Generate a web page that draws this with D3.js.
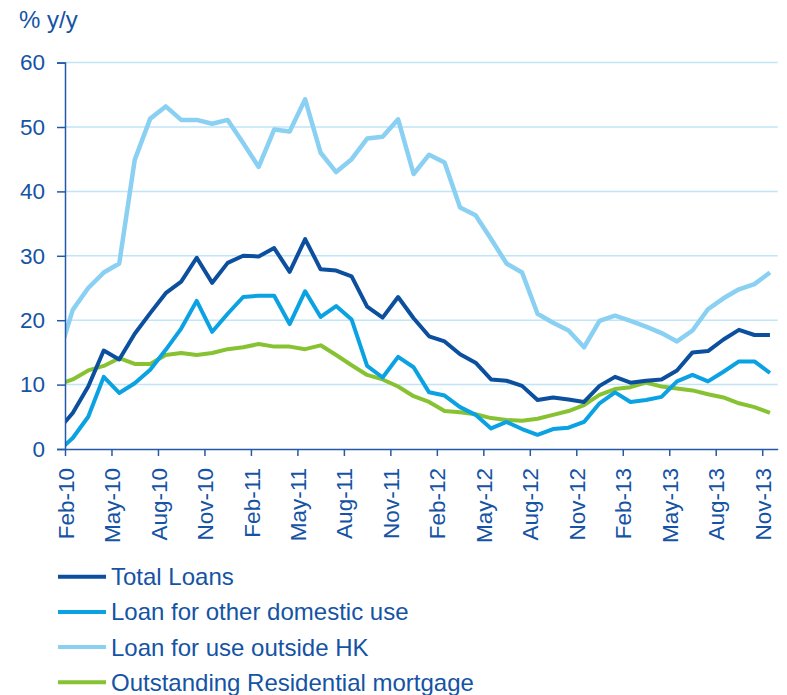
<!DOCTYPE html>
<html>
<head>
<meta charset="utf-8">
<script src="https://cdn.jsdelivr.net/npm/d3@7/dist/d3.min.js"></script>
<style>
  html, body { margin: 0; padding: 0; background: #fff; }
  svg { display: block; font-family: "Liberation Sans", Arial, sans-serif; }
</style>
</head>
<body>
<svg id="chart" width="787" height="695"></svg>
<script>
// Months Jan-10 .. Nov-13 (Jan-10 lies just before the axis start and is clipped)
const months = ["Jan-10","Feb-10","Mar-10","Apr-10","May-10","Jun-10","Jul-10","Aug-10","Sep-10","Oct-10","Nov-10","Dec-10",
  "Jan-11","Feb-11","Mar-11","Apr-11","May-11","Jun-11","Jul-11","Aug-11","Sep-11","Oct-11","Nov-11","Dec-11",
  "Jan-12","Feb-12","Mar-12","Apr-12","May-12","Jun-12","Jul-12","Aug-12","Sep-12","Oct-12","Nov-12","Dec-12",
  "Jan-13","Feb-13","Mar-13","Apr-13","May-13","Jun-13","Jul-13","Aug-13","Sep-13","Oct-13","Nov-13"];

const tickLabels = ["Feb-10","May-10","Aug-10","Nov-10","Feb-11","May-11","Aug-11","Nov-11",
  "Feb-12","May-12","Aug-12","Nov-12","Feb-13","May-13","Aug-13","Nov-13"];

const yTicks = [0, 10, 20, 30, 40, 50, 60];

const totalLoans = [2.8, 5.6, 9.7, 15.3, 13.9, 17.9, 21.1, 24.2, 26.0, 29.7, 25.8, 28.9,
  30.0, 29.9, 31.2, 27.5, 32.6, 27.9, 27.7, 26.8, 22.1, 20.4, 23.6, 20.3,
  17.5, 16.7, 14.7, 13.4, 10.8, 10.6, 9.8, 7.6, 8.0, 7.7, 7.3, 9.8,
  11.2, 10.3, 10.6, 10.8, 12.2, 15.0, 15.2, 17.0, 18.5, 17.7, 17.7];

const otherDomestic = [-0.5, 1.7, 5.0, 11.2, 8.7, 10.2, 12.3, 15.4, 18.7, 23.0, 18.2, 21.0,
  23.6, 23.8, 23.8, 19.4, 24.5, 20.5, 22.2, 20.1, 12.9, 11.1, 14.3, 12.7,
  8.8, 8.3, 6.5, 5.3, 3.2, 4.2, 3.1, 2.2, 3.1, 3.3, 4.2, 7.1,
  8.8, 7.3, 7.6, 8.1, 10.5, 11.5, 10.5, 12.0, 13.6, 13.6, 11.8];

const outsideHK = [13.8, 21.6, 25.0, 27.4, 28.8, 44.9, 51.3, 53.2, 51.1, 51.1, 50.5, 51.1,
  47.5, 43.8, 49.6, 49.3, 54.3, 46.0, 43.0, 45.0, 48.2, 48.5, 51.2, 42.7,
  45.7, 44.5, 37.5, 36.3, 32.6, 28.8, 27.4, 21.0, 19.6, 18.4, 15.8, 19.9,
  20.7, 19.9, 19.0, 18.0, 16.7, 18.4, 21.7, 23.4, 24.8, 25.6, 27.4];

const mortgage = [10.0, 10.8, 12.2, 12.9, 14.1, 13.2, 13.2, 14.6, 14.9, 14.6, 14.9, 15.5,
  15.8, 16.3, 15.9, 15.9, 15.5, 16.1, 14.6, 13.0, 11.5, 10.8, 9.7, 8.2,
  7.3, 5.9, 5.7, 5.4, 4.8, 4.5, 4.4, 4.7, 5.3, 5.9, 6.8, 8.4,
  9.3, 9.6, 10.3, 9.7, 9.4, 9.1, 8.5, 8.0, 7.1, 6.5, 5.6];

const seriesNames = ["Total Loans", "Loan for other domestic use", "Loan for use outside HK", "Outstanding Residential mortgage"];
const seriesColors = ["#0c4f9f", "#0aa2e2", "#8ad0f2", "#86c232"];
const seriesWidths = [4, 4, 4.5, 4];

const series = [
  { name: seriesNames[0], values: totalLoans, color: seriesColors[0], w: seriesWidths[0] },
  { name: seriesNames[1], values: otherDomestic, color: seriesColors[1], w: seriesWidths[1] },
  { name: seriesNames[2], values: outsideHK, color: seriesColors[2], w: seriesWidths[2] },
  { name: seriesNames[3], values: mortgage, color: seriesColors[3], w: seriesWidths[3] }
];

const textColor = "#1553a4";
const axisColor = "#2459a8";
const gridColor = "#bfe5f7";

const svg = d3.select("#chart");
const plotLeft = 65, plotRight = 777.7, plotTop = 62.6, plotBottom = 449;

// month index scale: 0 = start of Feb-10, 46 = start of Dec-13; points at mid-month
const x = d3.scaleLinear().domain([0, 46]).range([plotLeft, plotRight]);
const y = d3.scaleLinear().domain([0, 60]).range([plotBottom, plotTop]);
const xPos = i => x(i - 0.5); // i = index in months array (0 = Jan-10)

// gridlines
svg.append("g")
  .selectAll("line")
  .data(yTicks.filter(t => t > 0))
  .join("line")
  .attr("x1", plotLeft).attr("x2", plotRight)
  .attr("y1", d => y(d)).attr("y2", d => y(d))
  .attr("stroke", gridColor).attr("stroke-width", 1.5);

// clip
svg.append("defs").append("clipPath").attr("id", "plotclip")
  .append("rect").attr("x", plotLeft).attr("y", 0)
  .attr("width", plotRight - plotLeft + 10).attr("height", plotBottom + 10);

const line = d3.line().x((d, i) => xPos(i)).y(d => y(d));
const linesG = svg.append("g").attr("clip-path", "url(#plotclip)");
const drawOrder = [2, 3, 1, 0];
drawOrder.forEach(k => {
  const s = series[k];
  linesG.append("path")
    .datum(s.values)
    .attr("d", line)
    .attr("fill", "none")
    .attr("stroke", s.color)
    .attr("stroke-width", s.w)
    .attr("stroke-linejoin", "round");
});

// y axis
const yAxis = d3.axisLeft(y).tickValues(yTicks).tickSize(8).tickPadding(12).tickFormat(d3.format("d"));
const yg = svg.append("g").attr("transform", `translate(${plotLeft},0)`).call(yAxis);
yg.select(".domain").attr("stroke", axisColor).attr("stroke-width", 1.5);
yg.selectAll(".tick line").attr("stroke", axisColor).attr("stroke-width", 1.5);
yg.selectAll(".tick text").attr("fill", textColor).attr("font-size", 22.5)
  .attr("font-family", "Liberation Sans, Arial, sans-serif");

// x axis
const tickVals = tickLabels.map((_, k) => k * 3);
const xAxis = d3.axisBottom(x).tickValues(tickVals).tickSize(7).tickSizeOuter(0)
  .tickFormat((d, k) => tickLabels[k]);
const xg = svg.append("g").attr("transform", `translate(0,${plotBottom})`).call(xAxis);
xg.select(".domain").attr("stroke", axisColor).attr("stroke-width", 1.5);
xg.selectAll(".tick line").attr("stroke", axisColor).attr("stroke-width", 1.5);
xg.selectAll(".tick text")
  .attr("fill", textColor).attr("font-size", 22.5)
  .attr("font-family", "Liberation Sans, Arial, sans-serif")
  .attr("text-anchor", "end")
  .attr("dy", "0.36em")
  .attr("transform", "rotate(-90)")
  .attr("x", -19).attr("y", 0);

// y unit label
svg.append("text").attr("x", 19).attr("y", 28)
  .attr("fill", textColor).attr("font-size", 24)
  .text("% y/y");

// legend
const legendY0 = 576.7, legendStep = 35.2;
const lg = svg.append("g");
series.forEach((s, k) => {
  const yy = legendY0 + k * legendStep;
  lg.append("line").attr("x1", 58).attr("x2", 106).attr("y1", yy).attr("y2", yy)
    .attr("stroke", s.color).attr("stroke-width", 4);
  lg.append("text").attr("x", 111).attr("y", yy).attr("dy", "0.35em")
    .attr("fill", textColor).attr("font-size", 24)
    .text(s.name);
});
</script>
</body>
</html>
